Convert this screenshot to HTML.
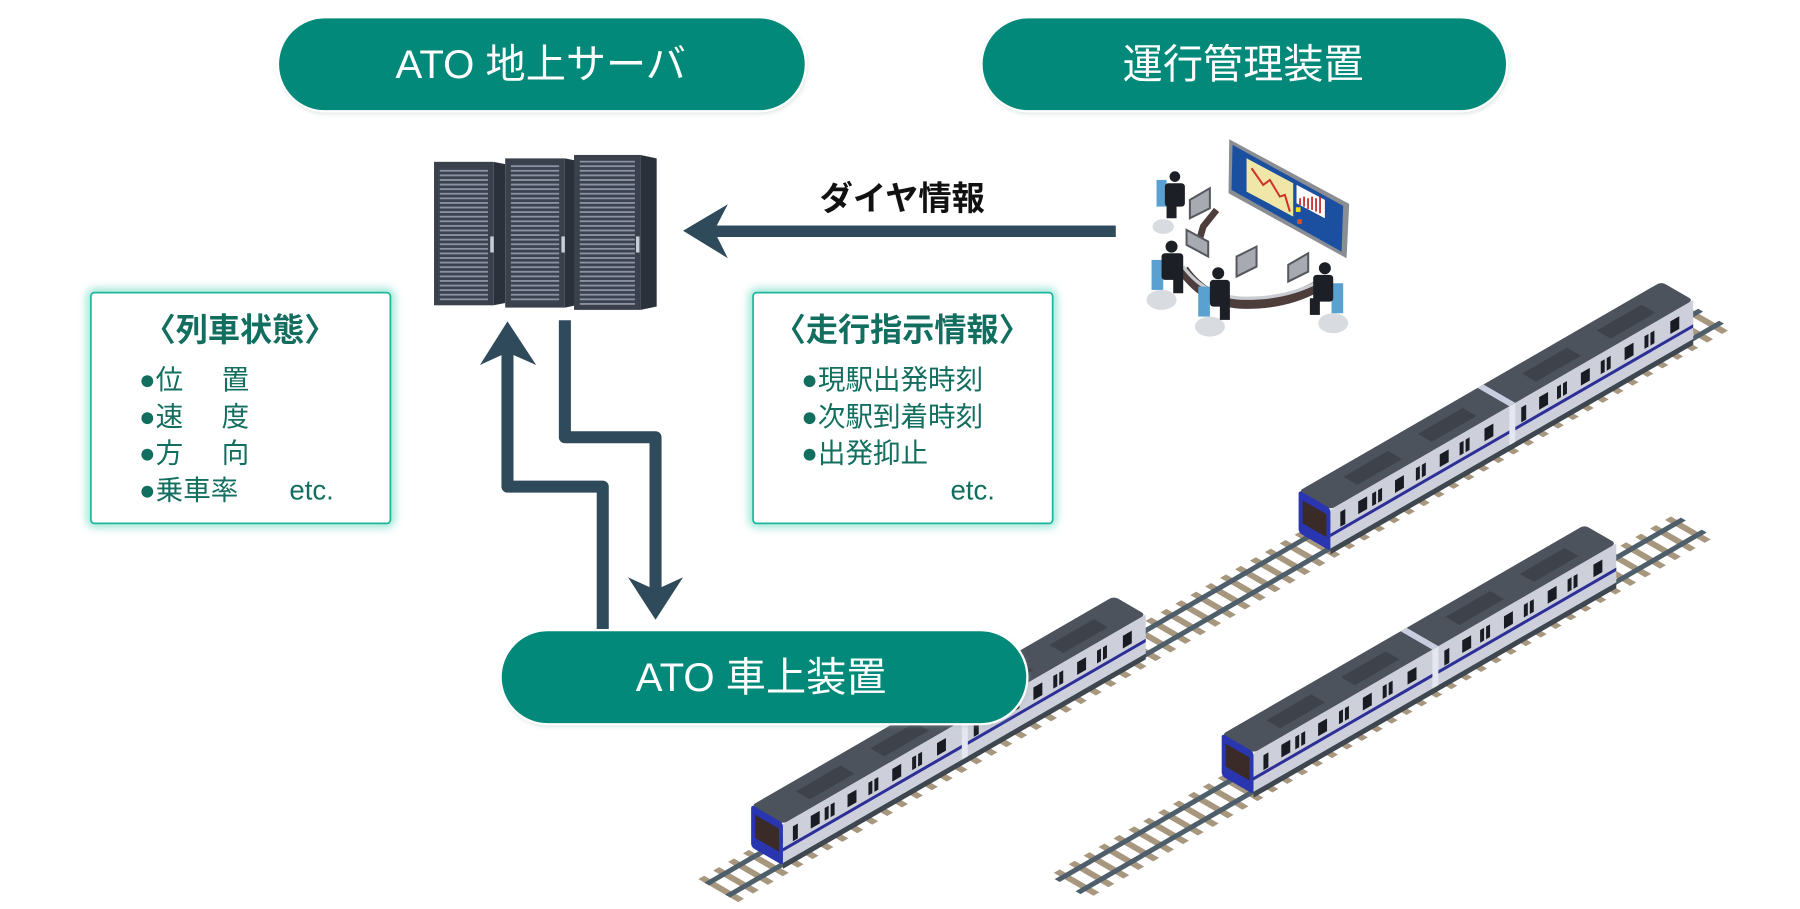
<!DOCTYPE html>
<html><head><meta charset="utf-8"><style>
html,body{margin:0;padding:0;background:#fff;}
svg{display:block;}
text{font-family:"Liberation Sans","Noto Sans CJK JP",sans-serif;}
</style></head><body>
<svg width="1800" height="909" viewBox="0 0 1568 792" xmlns="http://www.w3.org/2000/svg">
<defs>
<pattern id="ties" patternUnits="userSpaceOnUse" width="15" height="60"><rect x="0" y="0" width="6" height="60" fill="#a8977f"/></pattern>
<pattern id="vent" patternUnits="userSpaceOnUse" width="6" height="4"><rect width="6" height="4" fill="#3c4350"/><rect y="0" width="6" height="1.6" fill="#8a93a3"/></pattern>
<filter id="glow" x="-10%" y="-10%" width="120%" height="120%"><feGaussianBlur stdDeviation="4"/></filter>
<filter id="sh" x="-5%" y="-10%" width="110%" height="130%"><feGaussianBlur stdDeviation="2"/></filter>
</defs>

<!-- tracks -->
<g transform="matrix(.866 -.5 -.866 -.5 1159 484)">
  <rect x="-600" y="-4" width="1000" height="40" fill="url(#ties)"/>
  <rect x="-600" y="4" width="1000" height="5" fill="#4e5f6b"/>
  <rect x="-600" y="25" width="1000" height="5" fill="#4e5f6b"/>
</g>
<g transform="matrix(.866 -.5 -.866 -.5 1092 696)">
  <rect x="-170" y="-4" width="630" height="40" fill="url(#ties)"/>
  <rect x="-170" y="4" width="630" height="5" fill="#4e5f6b"/>
  <rect x="-170" y="25" width="630" height="5" fill="#4e5f6b"/>
</g>

<!-- trains -->
<g id="trainsrc">
<g transform="matrix(.866 -.5 0 1 1159 478)">
  <rect x="0" y="-34" width="365" height="34" fill="#cdd0db"/>
  <rect x="0" y="-13" width="365" height="3" fill="#2b2f96"/>
  <rect x="0" y="0" width="365" height="5" fill="#3e4650"/>
  <rect x="180" y="-34" width="6" height="34" fill="#e4e7f0"/>
  <g fill="#1a1c24">
    <rect x="10" y="-27" width="5" height="13"/><rect x="28" y="-27" width="9" height="11"/><rect x="42" y="-27" width="4" height="11"/><rect x="48" y="-27" width="4" height="11"/>
    <rect x="65" y="-27" width="9" height="11"/><rect x="86" y="-27" width="4" height="11"/><rect x="92" y="-27" width="4" height="11"/><rect x="110" y="-27" width="9" height="11"/><rect x="130" y="-27" width="4" height="11"/><rect x="136" y="-27" width="4" height="11"/><rect x="155" y="-27" width="9" height="11"/>
    <rect x="192" y="-27" width="5" height="13"/><rect x="210" y="-27" width="9" height="11"/><rect x="228" y="-27" width="4" height="11"/><rect x="234" y="-27" width="4" height="11"/><rect x="252" y="-27" width="9" height="11"/><rect x="272" y="-27" width="4" height="11"/><rect x="278" y="-27" width="4" height="11"/><rect x="296" y="-27" width="9" height="11"/><rect x="316" y="-27" width="4" height="11"/><rect x="322" y="-27" width="4" height="11"/><rect x="342" y="-27" width="9" height="11"/>
  </g>
</g>
<g transform="matrix(.866 -.5 -.866 -.5 1159 444)">
  <rect x="0" y="0" width="365" height="32" rx="4" fill="#4d535d"/>
  <rect x="180" y="0" width="6" height="32" fill="#c9cde0"/>
  <rect x="35" y="8" width="45" height="14" fill="#3d424b"/><rect x="110" y="8" width="45" height="14" fill="#3d424b"/>
  <rect x="215" y="8" width="45" height="14" fill="#3d424b"/><rect x="290" y="8" width="45" height="14" fill="#3d424b"/>
</g>
<g transform="matrix(-.866 -.5 0 1 1159 478)">
  <rect x="0" y="-35" width="32" height="37" rx="3" fill="#2a36b0"/>
  <rect x="4" y="-28" width="24" height="20" fill="#3a2a28"/>
</g>
</g>
<use href="#trainsrc" transform="translate(-477 274)"/>
<use href="#trainsrc" transform="translate(-67 212)"/>

<!-- server racks -->
<g>
  <rect x="378" y="141" width="52" height="125" fill="#3a414d"/><polygon points="430,141 440,143 440,264 430,266" fill="#2b313b"/>
  <rect x="383" y="146" width="42" height="116" fill="url(#vent)"/>
  <rect x="440" y="138" width="52" height="130" fill="#3a414d"/><polygon points="492,138 502,140 502,266 492,268" fill="#2b313b"/>
  <rect x="445" y="143" width="42" height="121" fill="url(#vent)"/>
  <rect x="500" y="135" width="58" height="135" fill="#3a414d"/><polygon points="558,135 572,138 572,267 558,270" fill="#2b313b"/>
  <rect x="505" y="140" width="48" height="126" fill="url(#vent)"/>
  <rect x="427" y="206" width="3" height="14" fill="#c9ced6"/><rect x="489" y="206" width="3" height="14" fill="#c9ced6"/><rect x="554" y="206" width="3" height="14" fill="#c9ced6"/>
</g>

<!-- control room -->
<g transform="translate(984.3 113.2) scale(0.2904)">
  <ellipse cx="100" cy="290" rx="32" ry="22" fill="#d8dbe0"/>
  <ellipse cx="95" cy="510" rx="45" ry="30" fill="#d8dbe0"/>
  <ellipse cx="240" cy="590" rx="45" ry="30" fill="#d8dbe0"/>
  <ellipse cx="610" cy="580" rx="45" ry="30" fill="#d8dbe0"/>
  <polygon points="298,28 658,222 650,385 296,190" fill="#8a8d92"/>
  <polygon points="308,45 640,228 635,365 305,180" fill="#1b4fa0"/>
  <polygon points="350,85 490,160 490,260 350,185" fill="#efe6a8"/>
  <polyline points="365,115 400,165 420,150 450,200 465,195 480,245" fill="none" stroke="#d0302a" stroke-width="6"/>
  <polygon points="500,165 585,210 585,265 500,220" fill="#fff"/>
  <g fill="#c02020"><rect x="508" y="205" width="5" height="20"/><rect x="520" y="200" width="5" height="30"/><rect x="532" y="205" width="5" height="32"/><rect x="544" y="200" width="5" height="40"/><rect x="556" y="205" width="5" height="40"/><rect x="568" y="200" width="5" height="50"/></g>
  <rect x="498" y="232" width="14" height="14" fill="#f0e020"/><rect x="502" y="268" width="14" height="14" fill="#e05020"/>
  <path d="M160 420 Q230 520 350 520 Q470 520 560 470" fill="none" stroke="#4d3e3c" stroke-width="34"/>
  <path d="M160 410 Q230 505 350 505 Q470 505 560 458" fill="none" stroke="#c9cdd3" stroke-width="10"/>
  <path d="M260 240 L220 290 L200 360" fill="none" stroke="#4d3e3c" stroke-width="20"/>
  <g fill="#a7aab0" stroke="#55585e" stroke-width="6">
    <polygon points="170,300 235,335 235,380 170,345"/>
    <polygon points="320,380 380,350 380,410 320,440"/>
    <polygon points="475,405 535,370 535,425 475,455"/>
    <polygon points="180,210 240,175 240,235 180,265"/>
  </g>
  <g fill="#5aa0d0">
    <rect x="80" y="150" width="30" height="80"/><rect x="65" y="390" width="35" height="90"/><rect x="205" y="470" width="35" height="90"/><rect x="605" y="460" width="35" height="90"/>
  </g>
  <g fill="#1d1f26">
    <circle cx="135" cy="140" r="16"/><rect x="105" y="160" width="60" height="70" rx="10"/><rect x="110" y="225" width="30" height="40"/>
    <circle cx="125" cy="350" r="18"/><rect x="95" y="370" width="65" height="80" rx="10"/><rect x="130" y="440" width="30" height="50"/>
    <circle cx="265" cy="430" r="18"/><rect x="240" y="450" width="60" height="80" rx="10"/><rect x="270" y="520" width="30" height="50"/>
    <circle cx="585" cy="415" r="18"/><rect x="550" y="435" width="60" height="80" rx="10"/><rect x="540" y="505" width="30" height="50"/>
  </g>
</g>

<!-- arrows -->
<g fill="#2f4a5a">
  <rect x="618" y="196.5" width="354" height="10"/>
  <polygon points="595,201 634,178 622,201 634,225"/>
  <polygon points="442,280 418,318 442,307 467,318"/>
  <polygon points="571,540 547,503 571,514 595,503"/>
</g>
<g fill="none" stroke="#2f4a5a" stroke-width="10.5" stroke-linejoin="round">
  <path d="M525 548 V424 H442 V305"/>
  <path d="M492 279 V381 H571 V515"/>
</g>
<text x="786" y="183" font-size="29" font-weight="bold" fill="#111" text-anchor="middle">ダイヤ情報</text>

<!-- info boxes -->
<g>
  <rect x="79" y="255" width="261" height="201" rx="3" fill="none" stroke="#7fe0cc" stroke-width="6" filter="url(#glow)"/>
  <rect x="79" y="255" width="261" height="201" rx="3" fill="#fff" stroke="#1fb59c" stroke-width="1.5"/>
  <rect x="656" y="255" width="261" height="201" rx="3" fill="none" stroke="#7fe0cc" stroke-width="6" filter="url(#glow)"/>
  <rect x="656" y="255" width="261" height="201" rx="3" fill="#fff" stroke="#1fb59c" stroke-width="1.5"/>
</g>
<g fill="#126e5e">
  <text x="209" y="297" font-size="28" font-weight="bold" text-anchor="middle">〈列車状態〉</text>
  <g font-size="24">
    <text x="121" y="339">●位</text><text x="193" y="339">置</text>
    <text x="121" y="371">●速</text><text x="193" y="371">度</text>
    <text x="121" y="403">●方</text><text x="193" y="403">向</text>
    <text x="121" y="435">●乗車率</text><text x="252" y="435">etc.</text>
  </g>
  <text x="786" y="297" font-size="28" font-weight="bold" text-anchor="middle">〈走行指示情報〉</text>
  <g font-size="24">
    <text x="698" y="339">●現駅出発時刻</text>
    <text x="698" y="371">●次駅到着時刻</text>
    <text x="698" y="403">●出発抑止</text>
    <text x="828" y="435">etc.</text>
  </g>
</g>

<!-- pills -->
<g>
  <rect x="243" y="17" width="460" height="82" rx="41" fill="#9aa" opacity=".35" filter="url(#sh)"/>
  <rect x="242" y="15" width="460" height="82" rx="41" fill="#02897a" stroke="#fff" stroke-width="2"/>
  <rect x="856" y="17" width="458" height="82" rx="41" fill="#9aa" opacity=".35" filter="url(#sh)"/>
  <rect x="855" y="15" width="458" height="82" rx="41" fill="#02897a" stroke="#fff" stroke-width="2"/>
  <rect x="437" y="551" width="459" height="82" rx="41" fill="#9aa" opacity=".35" filter="url(#sh)"/>
  <rect x="436" y="549" width="459" height="82" rx="41" fill="#02897a" stroke="#fff" stroke-width="2"/>
</g>
<g fill="#fff" font-size="35" text-anchor="middle">
  <text x="471" y="68">ATO 地上サーバ</text>
  <text x="1083" y="68">運行管理装置</text>
  <text x="663" y="602">ATO 車上装置</text>
</g>
</svg>
</body></html>
